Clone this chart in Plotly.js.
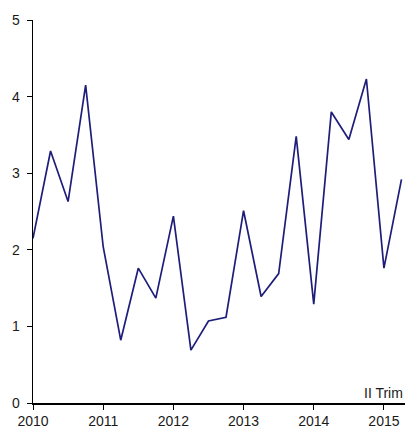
<!DOCTYPE html>
<html>
<head>
<meta charset="utf-8">
<script src="https://cdn.plot.ly/plotly-3.0.1.min.js"></script>
<style>html,body{margin:0;padding:0;background:#fff;}#chart{width:409px;height:431px;}</style>
</head>
<body>
<div id="chart"></div>
<script>
// Quarterly series, 2010 Q1 – 2015 Q2
const years    = [2010,2010,2010,2010,2011,2011,2011,2011,2012,2012,2012,2012,2013,2013,2013,2013,2014,2014,2014,2014,2015,2015];
const quarters = [1,2,3,4,1,2,3,4,1,2,3,4,1,2,3,4,1,2,3,4,1,2];
const values   = [2.15,3.29,2.63,4.15,2.04,0.82,1.76,1.37,2.44,0.69,1.07,1.12,2.51,1.39,1.69,3.48,1.29,3.80,3.44,4.23,1.76,2.92];
const tickYears = [2010,2011,2012,2013,2014,2015];
const tickLabels = ["2010","2011","2012","2013","2014","2015"];
const yTicks = [0,1,2,3,4,5];
const noteText = "II Trim";

const xs = years.map((y,i)=> y + (quarters[i]-1)/4);

const font = {family:"Liberation Sans, Arial, sans-serif", size:14, color:"#1a1a1a"};

Plotly.newPlot("chart", [{
  x: xs, y: values, type: "scatter", mode: "lines",
  line: {color: "#1e1e7a", width: 1.7},
  hoverinfo: "skip"
}], {
  width: 409, height: 431,
  margin: {l: 33, r: 4, t: 20, b: 28},
  paper_bgcolor: "#fff", plot_bgcolor: "#fff",
  showlegend: false,
  font: font,
  xaxis: {
    range: [2010, 2015.3], showgrid: false, zeroline: false,
    showline: true, linecolor: "#000", linewidth: 1.5,
    ticks: "outside", ticklen: 5, tickcolor: "#000", tickwidth: 1,
    tickvals: tickYears, ticktext: tickLabels, tickfont: font
  },
  yaxis: {
    range: [0, 5], showgrid: false, zeroline: false,
    showline: true, linecolor: "#000", linewidth: 1.5,
    ticks: "outside", ticklen: 5, tickcolor: "#000", tickwidth: 1,
    tickvals: yTicks, tickfont: font, ticklabelstandoff: 4
  },
  annotations: [{
    text: noteText, xref: "paper", yref: "paper", x: 1, y: 0,
    xanchor: "right", yanchor: "bottom", showarrow: false, font: font
  }]
}, {staticPlot: true});
</script>
</body>
</html>
